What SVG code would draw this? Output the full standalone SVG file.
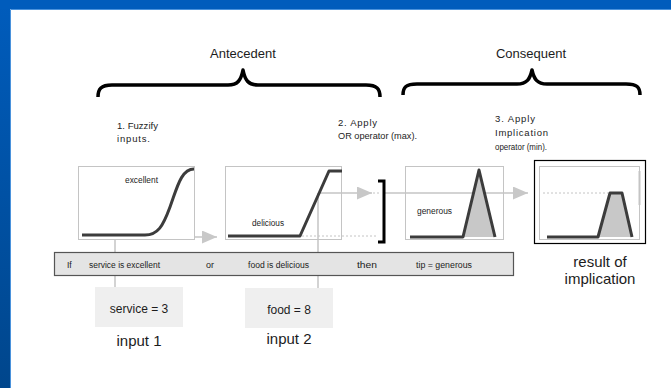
<svg xmlns="http://www.w3.org/2000/svg" width="671" height="388" viewBox="0 0 671 388">
  <defs>
    <linearGradient id="sideBand" x1="0" y1="0" x2="0" y2="1">
      <stop offset="0" stop-color="#005cbc"/>
      <stop offset="1" stop-color="#00468c"/>
    </linearGradient>
    <marker id="grayHead" markerUnits="userSpaceOnUse" markerWidth="16" markerHeight="14" refX="15" refY="6.5" orient="auto">
      <path d="M0,0 L15,6.5 L0,13 Z" fill="#c8c8c8"/>
    </marker>
  </defs>
  <style>
    .lbl { font-family: "Liberation Sans", Arial, sans-serif; fill: #1c1c1c; }
    .big { font-size: 13px; }
    .step { font-size: 9.5px; }
    .tiny { font-size: 8.5px; }
    .inp { font-size: 12px; }
    .cap { font-size: 15px; }
    .brace { fill: none; stroke: #000; stroke-width: 3.5; stroke-linejoin: round; }
    .panel { fill: none; stroke: #c4c4c4; stroke-width: 1; }
    .mf { fill: none; stroke: #3c3c3c; stroke-width: 3; stroke-linejoin: round; }
    .area { fill: #c8c8c8; stroke: none; }
    .wire { fill: none; stroke: #c4c4c4; stroke-width: 1.5; }
    .dots { fill: none; stroke: #c4c4c4; stroke-width: 1; stroke-dasharray: 2 2; }
    .inbox { fill: #efefef; stroke: none; }
  </style>

  <!-- slide frame -->
  <rect x="0" y="0" width="671" height="388" fill="#ffffff"/>
  <rect x="0" y="0" width="10" height="388" fill="url(#sideBand)"/>
  <rect x="0" y="0" width="671" height="9" fill="#005cbc"/>
  <path d="M10.5,388 L10.5,9.5 L671,9.5" fill="none" stroke="#4a92dc" stroke-width="1"/>

  <!-- headings and braces -->
  <g id="antecedent">
    <text class="lbl big" x="243" y="58" text-anchor="middle">Antecedent</text>
    <path class="brace" d="M98,97 C98,89 101,85 112,85 L228,85 C238,85 241,80 243,70 C245,80 248,85 258,85 L366,85 C377,85 380,89 380,97"/>
  </g>
  <g id="consequent">
    <text class="lbl big" x="531" y="58" text-anchor="middle">Consequent</text>
    <path class="brace" d="M403,95 C403,87 406,84 417,84 L517,84 C527,84 530,79 532,70 C534,79 537,84 547,84 L626,84 C637,84 640,87 640,95"/>
  </g>

  <!-- step notes -->
  <g id="step1">
    <text class="lbl step" x="117" y="128.5" textLength="41" lengthAdjust="spacingAndGlyphs">1. Fuzzify</text>
    <text class="lbl step" x="117" y="141.5" textLength="33" lengthAdjust="spacing">inputs.</text>
  </g>
  <g id="step2">
    <text class="lbl step" x="338" y="125.5" textLength="39" lengthAdjust="spacing">2. Apply</text>
    <text class="lbl step" x="338" y="139" textLength="79" lengthAdjust="spacingAndGlyphs">OR operator (max).</text>
  </g>
  <g id="step3">
    <text class="lbl step" x="495" y="122" textLength="40" lengthAdjust="spacing">3. Apply</text>
    <text class="lbl step" x="495" y="136" textLength="53" lengthAdjust="spacing">Implication</text>
    <text class="lbl step" x="495" y="150" textLength="52" lengthAdjust="spacingAndGlyphs">operator (min).</text>
  </g>

  <!-- connectors -->
  <g id="connectors">
    <line class="wire" x1="115" y1="240" x2="115" y2="287"/>
    <line class="wire" x1="195" y1="237" x2="217" y2="237" marker-end="url(#grayHead)"/>
    <line class="wire" x1="318" y1="193" x2="318" y2="288"/>
    <line class="wire" x1="318" y1="193" x2="372" y2="193" marker-end="url(#grayHead)"/>
    <line class="dots" x1="373" y1="193" x2="380" y2="193"/>
    <line class="dots" x1="302" y1="236" x2="378" y2="236"/>
    <line class="wire" x1="385" y1="193" x2="528" y2="193" marker-end="url(#grayHead)"/>
    <line class="dots" x1="543" y1="193" x2="608" y2="193"/>
  </g>

  <!-- input membership: service is excellent -->
  <g id="excellent">
    <rect class="panel" x="78.5" y="166.5" width="116" height="73"/>
    <text class="lbl tiny" x="125" y="183" textLength="33" lengthAdjust="spacingAndGlyphs">excellent</text>
    <path class="mf" d="M82,235 L145,235 C158,235 163,226 170,207 C177,188 181,169 194,169"/>
  </g>

  <!-- input membership: food is delicious -->
  <g id="delicious">
    <rect class="panel" x="225.5" y="166.5" width="116" height="73"/>
    <text class="lbl tiny" x="252" y="226" textLength="32" lengthAdjust="spacingAndGlyphs">delicious</text>
    <path class="mf" d="M228,236 L300,236 L329,171 L342,171"/>
  </g>

  <!-- OR bracket -->
  <g id="or-bracket">
    <path d="M378,181 L384,181 L384,242 L378,242" fill="none" stroke="#000" stroke-width="3"/>
  </g>

  <!-- output membership: tip is generous -->
  <g id="generous">
    <rect class="panel" x="405.5" y="166.5" width="98" height="73"/>
    <polygon class="area" points="463,237 479,170 495,237"/>
    <text class="lbl tiny" x="417" y="214" textLength="35" lengthAdjust="spacingAndGlyphs">generous</text>
    <path class="mf" d="M410,237 L463,237 L479,170 L495,237"/>
  </g>

  <!-- implied output -->
  <g id="implication-result">
    <rect x="534.5" y="160.5" width="111" height="83" fill="none" stroke="#000" stroke-width="1.2"/>
    <rect class="panel" x="539.5" y="166.5" width="100" height="73"/>
    <line x1="639.5" y1="171" x2="639.5" y2="205" stroke="#c4c4c4" stroke-width="2"/>
    <polygon class="area" points="598,237 610,193 622,193 632,237"/>
    <path class="mf" d="M547,237 L598,237 L610,193 L622,193 L632,237"/>
    <text class="lbl cap" x="600" y="267" text-anchor="middle">result of</text>
    <text class="lbl cap" x="600" y="284" text-anchor="middle">implication</text>
  </g>

  <!-- rule statement -->
  <g id="rule">
    <rect x="54.5" y="252.5" width="459" height="23" fill="#e4e4e4" stroke="#555" stroke-width="1.2"/>
    <text class="lbl tiny" x="67" y="268">If</text>
    <text class="lbl tiny" x="89" y="268" textLength="71" lengthAdjust="spacingAndGlyphs">service is excellent</text>
    <text class="lbl tiny" x="206" y="268" textLength="8" lengthAdjust="spacingAndGlyphs">or</text>
    <text class="lbl tiny" x="248" y="268" textLength="61" lengthAdjust="spacingAndGlyphs">food is delicious</text>
    <text class="lbl tiny" x="357" y="268" textLength="20" lengthAdjust="spacingAndGlyphs">then</text>
    <text class="lbl tiny" x="416" y="268" textLength="56" lengthAdjust="spacingAndGlyphs">tip = generous</text>
  </g>

  <!-- crisp inputs -->
  <g id="input1">
    <rect class="inbox" x="95" y="287" width="88" height="40"/>
    <text class="lbl inp" x="139" y="313" text-anchor="middle">service = 3</text>
    <text class="lbl cap" x="139" y="346" text-anchor="middle">input 1</text>
  </g>
  <g id="input2">
    <rect class="inbox" x="245" y="288" width="88" height="40"/>
    <text class="lbl inp" x="289" y="314" text-anchor="middle">food = 8</text>
    <text class="lbl cap" x="289" y="344" text-anchor="middle">input 2</text>
  </g>
</svg>
